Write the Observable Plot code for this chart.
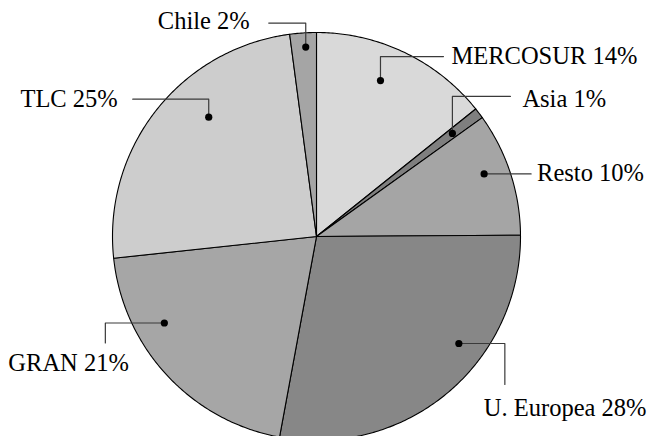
<!DOCTYPE html>
<html>
<head>
<meta charset="utf-8">
<script src="https://cdn.jsdelivr.net/npm/d3@7"></script>
<script src="https://cdn.jsdelivr.net/npm/@observablehq/plot@0.6"></script>
<style>
  html, body { margin: 0; padding: 0; background: #fff; }
  #chart svg { display: block; }
  #chart svg text { font-family: "Liberation Serif", "Times New Roman", serif !important; }
</style>
</head>
<body>
<div id="chart"></div>
<script>
// ---- data ----
const categories = ["MERCOSUR", "Asia", "Resto", "U. Europea", "GRAN", "TLC", "Chile"];
const shares = [14.25, 0.85, 9.8, 28.0, 20.4, 24.6, 2.1];
const pctLabels = ["14%", "1%", "10%", "28%", "21%", "25%", "2%"];

// ---- styles ----
const fills = ["#d9d9d9", "#7f7f7f", "#a5a5a5", "#878787", "#a6a6a6", "#cdcdcd", "#a5a5a5"];
const serif = "'Liberation Serif', 'Times New Roman', serif";

// ---- layout (label placement) ----
const R = 204; // pixel radius
// dotPos: fraction within the slice; dotR: fraction of radius
// legs: pixel offsets from the dot for the leader polyline; text: offset + anchor
const layout = [
  {dotPos: 0.435, dotR: 0.826, legs: [[0, -24], [63, -24]], text: [71, -24], anchor: "start"},
  {dotPos: 0.5,   dotR: 0.836, legs: [[0, -37], [58, -37]], text: [70, -34], anchor: "start"},
  {dotPos: 0.43,  dotR: 0.877, legs: [[47, 0]],             text: [53, -1],  anchor: "start"},
  {dotPos: 0.37,  dotR: 0.873, legs: [[46, 0], [46, 41]],   text: [25, 65],  anchor: "start"},
  {dotPos: 0.68,  dotR: 0.858, legs: [[-59, 0], [-59, 20]], text: [-156, 40], anchor: "start"},
  {dotPos: 0.61,  dotR: 0.788, legs: [[0, -18], [-76, -18]], text: [-91, -18], anchor: "end"},
  {dotPos: 0.57,  dotR: 0.93,  legs: [[0, -24], [-37, -24]], text: [-56, -26], anchor: "end"}
];

const total = d3.sum(shares);
let cum = 0;
const slices = categories.map((c, i) => {
  const a0 = cum / total * 2 * Math.PI;
  cum += shares[i];
  const a1 = cum / total * 2 * Math.PI;
  return {label: c, a0, a1, i};
});

function polar(a, r) { return {x: r * Math.sin(a), y: r * Math.cos(a)}; }

const marks = [];
// slices
for (const s of slices) {
  const pts = [{x: 0, y: 0}];
  const n = Math.max(2, Math.ceil((s.a1 - s.a0) / 0.01));
  for (let k = 0; k <= n; k++) pts.push(polar(s.a0 + (s.a1 - s.a0) * k / n, 1));
  pts.push({x: 0, y: 0});
  marks.push(Plot.line(pts, {x: "x", y: "y", fill: fills[s.i], stroke: "#000", strokeWidth: 1.1, curve: "linear", strokeLinejoin: "round"}));
}

// leaders, dots, labels
const dots = [], leaders = [], texts = [];
slices.forEach((s, i) => {
  const L = layout[i];
  const a = s.a0 + (s.a1 - s.a0) * L.dotPos;
  const d = polar(a, L.dotR);
  dots.push(d);
  leaders.push({x: d.x, y: d.y, k: i});
  for (const [dx, dy] of L.legs) leaders.push({x: d.x + dx / R, y: d.y - dy / R, k: i});
  texts.push({x: d.x + L.text[0] / R, y: d.y - L.text[1] / R, t: `${categories[i]} ${pctLabels[i]}`, anchor: L.anchor});
});

marks.push(Plot.line(leaders, {x: "x", y: "y", z: "k", stroke: "#3a3a3a", strokeWidth: 1.2, curve: "linear"}));
marks.push(Plot.dot(dots, {x: "x", y: "y", r: 3.6, fill: "#000", stroke: "none"}));
marks.push(Plot.text(texts.filter(d => d.anchor === "start"), {x: "x", y: "y", text: "t", textAnchor: "start", lineAnchor: "middle", fontFamily: serif, fontSize: 24.5, fill: "#000"}));
marks.push(Plot.text(texts.filter(d => d.anchor === "end"), {x: "x", y: "y", text: "t", textAnchor: "end", lineAnchor: "middle", fontFamily: serif, fontSize: 24.5, fill: "#000"}));

const cx = 316, cy = 236;
const chart = Plot.plot({
  width: 648,
  height: 436,
  margin: 0,
  style: {background: "#fff", overflow: "hidden", fontFamily: serif},
  x: {domain: [-1, 1], range: [cx - R, cx + R], axis: null},
  y: {domain: [-1, 1], range: [cy + R, cy - R], axis: null},
  marks
});
document.getElementById("chart").appendChild(chart);
</script>
</body>
</html>
